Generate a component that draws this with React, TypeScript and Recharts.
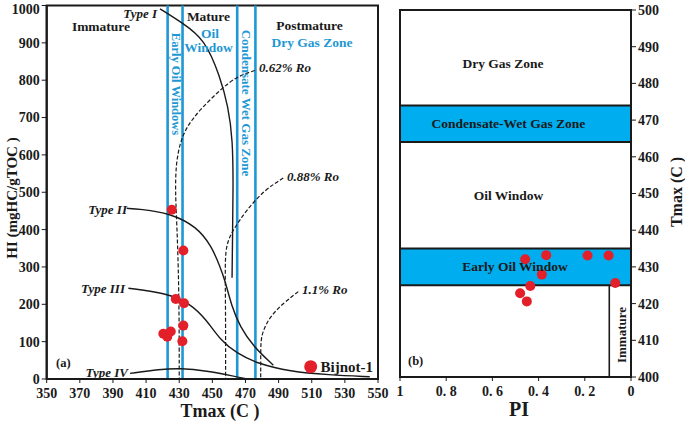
import {
  ComposedChart,
  Line,
  Scatter,
  XAxis,
  YAxis,
  ReferenceLine,
  ReferenceArea,
} from 'recharts';

// ---- data ----
const tmaxTicks = [350, 370, 390, 410, 430, 450, 470, 490, 510, 530, 550];
const hiTicks = [0, 100, 200, 300, 400, 500, 600, 700, 800, 900, 1000];
const tmaxRightTicks = [400, 410, 420, 430, 440, 450, 460, 470, 480, 490, 500];
const piTicks = [1, 0.8, 0.6, 0.4, 0.2, 0];
const piLabels = ['1', '0. 8', '0. 6', '0. 4', '0. 2', '0'];

// Bijnot-1 samples, HI vs Tmax (panel a)
const sampleTmax = [425.5, 432.5, 427.9, 432.9, 432.5, 431.9, 420.4, 422.8, 424.9];
const sampleHI = [453, 344, 214, 203, 143, 101, 121, 113, 127];

// Bijnot-1 samples, PI vs Tmax (panel b)
const samplePI = [0.458, 0.367, 0.188, 0.097, 0.386, 0.436, 0.48, 0.451, 0.068];
const sampleTmaxB = [432.1, 433.2, 433.1, 433.1, 427.9, 424.8, 422.8, 420.6, 425.6];

// kerogen type curves [Tmax, HI]
const typeI = [[418.4, 991], [431.7, 954], [445.6, 909], [454.6, 810], [459.6, 729], [462.3, 641], [462.6, 515], [462.2, 390], [461.9, 271]];
const typeII = [[398.3, 457], [406.3, 455], [424.4, 444], [440.6, 408], [449.6, 355], [454.6, 301], [457.6, 265], [461.7, 194], [466.7, 140], [474.7, 87], [486.8, 37]];
const typeIII = [[399.3, 243], [422.4, 230], [436.5, 203], [446.6, 158], [454.6, 105], [464.7, 69], [476.8, 42], [496.9, 20], [520, 11], [545, 6]];
const typeIV = [[400.3, 15], [418.4, 26], [430.5, 29], [446.6, 22], [462.6, 8], [470.8, 0]];

// iso-reflectance lines [Tmax, HI]
const ro062 = [[475.6, 826], [464.7, 810], [454.6, 774], [442.5, 721], [434.5, 676], [430.5, 632], [428.1, 578], [427.6, 507], [428.5, 420], [429.5, 300], [430, 150], [430, 0]];
const ro088 = [[492.8, 538], [481.5, 506], [470.7, 453], [462.6, 400], [458.7, 364], [457.6, 319], [458, 200], [458, 0]];
const ro11 = [[501.9, 234], [492.8, 203], [484.8, 167], [480.8, 131], [479.2, 105], [479.2, 50], [479.2, 0]];

// maturity window boundaries (panel a)
const windowLines = [423, 432, 465, 476];

// maturity bands (panel b)
const earlyOilBand = [425, 435];
const condensateBand = [464, 474];
const immatureBox = { pi: 0.094, tmax: 425 };

const toPts = (arr: number[][]) => arr.map(([t, hi]) => ({ t, hi }));
const samplesA = sampleTmax.map((t, i) => ({ t, hi: sampleHI[i] }));
const samplesB = samplePI.map((pi, i) => ({ pi, tmax: sampleTmaxB[i] }));

const SERIF = '"Liberation Serif", "Times New Roman", serif';
const BLUE = '#1e98d4';
const RED = '#e3202a';
const INK = '#1a1a1a';

// bold serif tick labels, drawn by hand so the weight sticks
const BottomTick = ({ x, y, payload, format }: any) => (
  <text x={x} y={y} dy="0.75em" textAnchor="middle" fontSize={14} fontWeight={700} fontFamily={SERIF} fill={INK}>
    {format ? format(payload.value) : payload.value}
  </text>
);
const LeftTick = ({ x, y, payload }: any) => (
  <text x={x} y={y} dy="0.35em" textAnchor="end" fontSize={14} fontWeight={700} fontFamily={SERIF} fill={INK}>
    {payload.value}
  </text>
);
const RightTick = ({ x, y, payload }: any) => (
  <text x={x} y={y} dy="0.35em" textAnchor="start" fontSize={14} fontWeight={700} fontFamily={SERIF} fill={INK}>
    {payload.value}
  </text>
);

const Dot = (p: any) => <circle cx={p.cx} cy={p.cy} r={5} fill={RED} />;

function PanelA() {
  const solid = { stroke: INK, strokeWidth: 1.4 };
  const dashed = { stroke: INK, strokeWidth: 1.2, strokeDasharray: '4 2' };
  return (
    <ComposedChart width={392} height={423} margin={{ top: 5.5, right: 14, bottom: 14, left: 6.7 }}>
      <XAxis
        dataKey="t"
        type="number"
        domain={[350, 550]}
        ticks={tmaxTicks}
        allowDataOverflow
        height={30}
        tick={<BottomTick />}
        tickSize={4}
        tickMargin={4}
        axisLine={{ stroke: INK, strokeWidth: 2 }}
        tickLine={{ stroke: INK }}
      />
      <YAxis
        dataKey="hi"
        type="number"
        domain={[0, 1000]}
        ticks={hiTicks}
        allowDataOverflow
        width={40}
        tick={<LeftTick />}
        tickSize={5}
        tickMargin={2}
        axisLine={{ stroke: INK, strokeWidth: 2 }}
        tickLine={{ stroke: INK }}
      />
      <ReferenceArea x1={350} x2={550} y1={0} y2={1000} fill="none" stroke={INK} strokeWidth={2} />
      {windowLines.map((x) => (
        <ReferenceLine key={x} x={x} stroke={BLUE} strokeWidth={2.6} />
      ))}
      <Line data={toPts(typeI)} dataKey="hi" type="basis" {...solid} dot={false} activeDot={false} isAnimationActive={false} />
      <Line data={toPts(typeII)} dataKey="hi" type="basis" {...solid} dot={false} activeDot={false} isAnimationActive={false} />
      <Line data={toPts(typeIII)} dataKey="hi" type="basis" {...solid} dot={false} activeDot={false} isAnimationActive={false} />
      <Line data={toPts(typeIV)} dataKey="hi" type="basis" {...solid} dot={false} activeDot={false} isAnimationActive={false} />
      <Line data={toPts(ro062)} dataKey="hi" type="basis" {...dashed} dot={false} activeDot={false} isAnimationActive={false} />
      <Line data={toPts(ro088)} dataKey="hi" type="basis" {...dashed} dot={false} activeDot={false} isAnimationActive={false} />
      <Line data={toPts(ro11)} dataKey="hi" type="basis" {...dashed} dot={false} activeDot={false} isAnimationActive={false} />
      <Scatter data={samplesA} dataKey="hi" shape={Dot} isAnimationActive={false} />
    </ComposedChart>
  );
}

function PanelB() {
  const fmtPI = (v: number) => piLabels[piTicks.indexOf(v)];
  return (
    <ComposedChart width={305} height={423} margin={{ top: 10, right: 14, bottom: 16, left: 20 }}>
      <XAxis
        dataKey="pi"
        type="number"
        domain={[0, 1]}
        reversed
        ticks={piTicks}
        height={30}
        tick={<BottomTick format={fmtPI} />}
        tickSize={4}
        tickMargin={4}
        axisLine={{ stroke: INK, strokeWidth: 2 }}
        tickLine={{ stroke: INK }}
      />
      <YAxis
        dataKey="tmax"
        orientation="right"
        type="number"
        domain={[400, 500]}
        ticks={tmaxRightTicks}
        width={40}
        tick={<RightTick />}
        tickSize={5}
        tickMargin={2}
        axisLine={{ stroke: INK, strokeWidth: 2 }}
        tickLine={{ stroke: INK }}
      />
      <ReferenceArea x1={0} x2={1} y1={condensateBand[0]} y2={condensateBand[1]} fill="#00adee" fillOpacity={1} stroke={INK} strokeWidth={2} />
      <ReferenceArea x1={0} x2={1} y1={earlyOilBand[0]} y2={earlyOilBand[1]} fill="#00adee" fillOpacity={1} stroke={INK} strokeWidth={2} />
      <ReferenceLine
        segment={[{ x: immatureBox.pi, y: 400 }, { x: immatureBox.pi, y: immatureBox.tmax }]}
        stroke={INK}
        strokeWidth={1.6}
      />
      <ReferenceArea x1={0} x2={1} y1={400} y2={500} fill="none" stroke={INK} strokeWidth={2} />
      <Scatter data={samplesB} dataKey="tmax" shape={Dot} isAnimationActive={false} />
    </ComposedChart>
  );
}

function Annotations() {
  const b = { fontFamily: SERIF, fontWeight: 700 } as const;
  const it = { fontFamily: SERIF, fontWeight: 700, fontStyle: 'italic' } as const;
  return (
    <svg width={685} height={423} style={{ position: 'absolute', left: 0, top: 0, pointerEvents: 'none' }}>
      {/* panel a zone labels */}
      <text x={101} y={31} fontSize={13.5} textAnchor="middle" fill={INK} {...b}>Immature</text>
      <text x={208.5} y={21} fontSize={13.5} textAnchor="middle" fill={INK} {...b}>Mature</text>
      <text x={210} y={38} fontSize={13.5} textAnchor="middle" fill={BLUE} {...b}>Oil</text>
      <text x={208.5} y={52} fontSize={13.5} textAnchor="middle" fill={BLUE} {...b}>Window</text>
      <text x={309.5} y={30} fontSize={13.5} textAnchor="middle" fill={INK} {...b}>Postmature</text>
      <text x={312} y={47} fontSize={13.5} textAnchor="middle" fill={BLUE} {...b}>Dry Gas Zone</text>
      <text transform="translate(176,84) rotate(90)" fontSize={12.5} textAnchor="middle" dominantBaseline="central" fill={BLUE} {...b}>Early Oil Windows</text>
      <text transform="translate(246,103) rotate(90)" fontSize={13} textAnchor="middle" dominantBaseline="central" fill={BLUE} {...b}>Condensate Wet Gas Zone</text>

      {/* curve labels */}
      <text x={157} y={18} fontSize={13} textAnchor="end" fill={INK} {...it}>Type I</text>
      <text x={127} y={214} fontSize={13} textAnchor="end" fill={INK} {...it}>Type II</text>
      <text x={125} y={293} fontSize={13} textAnchor="end" fill={INK} {...it}>Type III</text>
      <text x={128} y={377} fontSize={13} textAnchor="end" fill={INK} {...it}>Type IV</text>
      <text x={259} y={72} fontSize={13} fill={INK} {...it}>0.62% Ro</text>
      <text x={287} y={181} fontSize={13} fill={INK} {...it}>0.88% Ro</text>
      <text x={302} y={294} fontSize={13} fill={INK} {...it}>1.1% Ro</text>
      <text x={56} y={367} fontSize={12.5} fill={INK} {...b}>(a)</text>

      {/* legend */}
      <circle cx={310.7} cy={366.7} r={6.5} fill={RED} />
      <text x={320.5} y={367} fontSize={15} dominantBaseline="central" fill={INK} {...b}>Bijnot-1</text>

      {/* panel a axis titles */}
      <text transform="translate(12,198) rotate(-90)" fontSize={15} textAnchor="middle" dominantBaseline="central" fill={INK} {...b}>HI (mgHC/gTOC )</text>
      <text x={220} y={411} fontSize={18} textAnchor="middle" dominantBaseline="central" fill={INK} {...b}>Tmax (C )</text>

      {/* panel b labels */}
      <text x={503} y={63} fontSize={13.5} textAnchor="middle" dominantBaseline="central" fill={INK} {...b}>Dry Gas Zone</text>
      <text x={508.5} y={123.5} fontSize={13.5} textAnchor="middle" dominantBaseline="central" fill={INK} {...b}>Condensate-Wet Gas Zone</text>
      <text x={508.5} y={195} fontSize={13.5} textAnchor="middle" dominantBaseline="central" fill={INK} {...b}>Oil Window</text>
      <text x={515} y={266} fontSize={13.5} textAnchor="middle" dominantBaseline="central" fill={INK} {...b}>Early Oil Window</text>
      <text transform="translate(621,335) rotate(-90)" fontSize={13} textAnchor="middle" dominantBaseline="central" fill={INK} {...b}>Immature</text>
      <text x={408} y={365} fontSize={12.5} fill={INK} {...b}>(b)</text>
      <text x={519} y={409} fontSize={20} textAnchor="middle" dominantBaseline="central" fill={INK} {...b}>PI</text>
      <text transform="translate(676,192) rotate(-90)" fontSize={16} textAnchor="middle" dominantBaseline="central" fill={INK} {...b}>Tmax (C )</text>
    </svg>
  );
}

export default function App() {
  return (
    <div
      style={{
        position: 'absolute',
        left: 0,
        top: 0,
        width: 685,
        height: 423,
        background: '#fff',
        overflow: 'hidden',
        fontFamily: SERIF,
      }}
    >
      <div style={{ position: 'absolute', left: 0, top: 0 }}>
        <PanelA />
      </div>
      <div style={{ position: 'absolute', left: 380, top: 0 }}>
        <PanelB />
      </div>
      <Annotations />
    </div>
  );
}
